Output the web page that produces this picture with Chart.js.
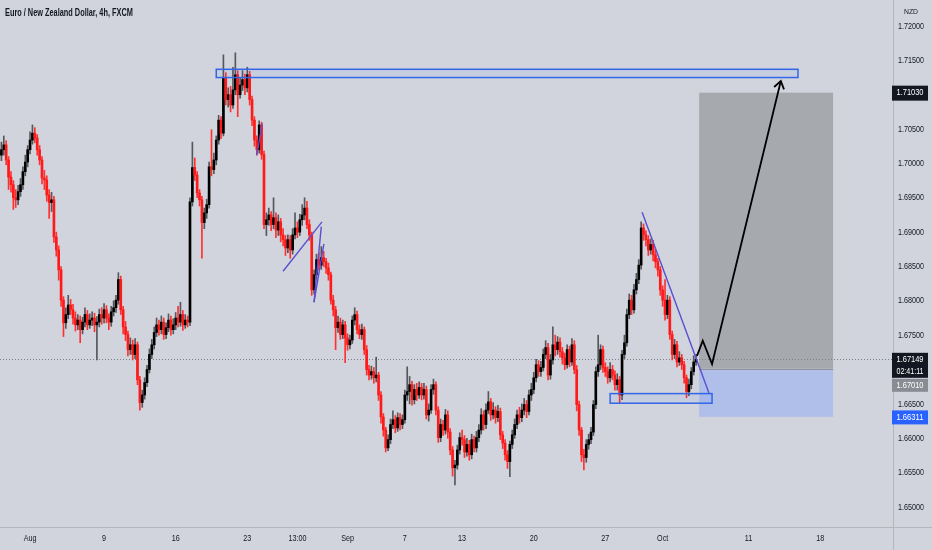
<!DOCTYPE html>
<html><head><meta charset="utf-8">
<script src="https://cdn.jsdelivr.net/npm/chart.js@4.4.1/dist/chart.umd.min.js"></script>
<style>
html,body{margin:0;padding:0;background:#d1d4dc;}
#wrap{position:relative;width:932px;height:550px;overflow:hidden;}
#c{position:absolute;left:0;top:0;}
#title{position:absolute;left:5px;top:6px;font:600 10.5px 'Liberation Sans',Arial,sans-serif;color:#131722;white-space:nowrap;transform:scaleX(0.7);transform-origin:0 0;}
</style></head><body>
<div id="wrap"><canvas id="c" width="932" height="550"></canvas><div id="title">Euro / New Zealand Dollar, 4h, FXCM</div></div>
<script>
// ---- DATA: EUR/NZD 4h candles ----
const closes=[
1.7020,1.7027,1.7005,1.6980,1.6969,1.6950,1.6947,1.6959,1.6969,1.6988,
1.7002,1.7020,1.7034,1.7044,1.7037,1.7020,1.7005,1.6979,1.6976,1.6954,
1.6943,1.6947,1.6893,1.6874,1.6845,1.6801,1.6768,1.6780,1.6794,1.6787,
1.6775,1.6765,1.6772,1.6758,1.6769,1.6780,1.6765,1.6772,1.6775,1.6765,
1.6769,1.6780,1.6775,1.6787,1.6775,1.6769,1.6784,1.6790,1.6801,1.6831,
1.6787,1.6762,1.6751,1.6729,1.6736,1.6722,1.6736,1.6685,1.6652,1.6663,
1.6681,1.6700,1.6722,1.6736,1.6754,1.6765,1.6758,1.6769,1.6751,1.6761,
1.6772,1.6758,1.6765,1.6775,1.6769,1.6780,1.6765,1.6772,1.6769,1.6944,
1.6994,1.6983,1.6957,1.6947,1.6914,1.6928,1.6940,1.6995,1.6991,1.7005,
1.7034,1.7063,1.7044,1.7125,1.7093,1.7100,1.7085,1.7107,1.7129,1.7100,
1.7114,1.7122,1.7110,1.7129,1.7093,1.7063,1.7034,1.7020,1.7056,1.7013,
1.6911,1.6918,1.6925,1.6911,1.6921,1.6903,1.6915,1.6896,1.6889,1.6877,
1.6889,1.6874,1.6896,1.6906,1.6900,1.6918,1.6925,1.6935,1.6911,1.6896,
1.6816,1.6838,1.6860,1.6852,1.6863,1.6857,1.6848,1.6838,1.6801,1.6787,
1.6761,1.6769,1.6751,1.6765,1.6746,1.6736,1.6743,1.6772,1.6780,1.6758,
1.6751,1.6758,1.6729,1.6700,1.6692,1.6697,1.6688,1.6692,1.6663,1.6631,
1.6612,1.6586,1.6598,1.6620,1.6627,1.6615,1.6630,1.6620,1.6627,1.6663,
1.6668,1.6678,1.6656,1.6671,1.6663,1.6674,1.6663,1.6671,1.6634,1.6641,
1.6671,1.6678,1.6641,1.6601,1.6620,1.6612,1.6634,1.6609,1.6583,1.6557,
1.6561,1.6583,1.6601,1.6598,1.6580,1.6591,1.6576,1.6598,1.6586,1.6601,
1.6612,1.6634,1.6620,1.6641,1.6653,1.6634,1.6641,1.6630,1.6639,1.6605,
1.6593,1.6576,1.6566,1.6591,1.6605,1.6620,1.6634,1.6630,1.6641,1.6649,
1.6639,1.6663,1.6671,1.6688,1.6707,1.6697,1.6703,1.6722,1.6732,1.6692,
1.6714,1.6736,1.6729,1.6740,1.6726,1.6717,1.6707,1.6729,1.6711,1.6736,
1.6700,1.6649,1.6612,1.6576,1.6572,1.6591,1.6598,1.6609,1.6649,1.6697,
1.6707,1.6729,1.6703,1.6697,1.6688,1.6700,1.6692,1.6678,1.6685,1.6663,
1.6722,1.6739,1.6780,1.6801,1.6787,1.6816,1.6831,1.6852,1.6906,1.6896,
1.6889,1.6874,1.6882,1.6867,1.6857,1.6845,1.6816,1.6801,1.6780,1.6801,
1.6751,1.6722,1.6736,1.6711,1.6717,1.6707,1.6688,1.6668,1.6678,1.6697,
1.6711,1.67149];
const opens=[
1.7012,1.7020,1.7027,1.7005,1.6980,1.6969,1.6950,1.6947,1.6959,1.6969,
1.6988,1.7002,1.7020,1.7034,1.7044,1.7037,1.7020,1.7005,1.6979,1.6976,
1.6954,1.6943,1.6947,1.6893,1.6874,1.6845,1.6801,1.6768,1.6780,1.6794,
1.6787,1.6775,1.6765,1.6772,1.6758,1.6769,1.6780,1.6765,1.6772,1.6775,
1.6765,1.6769,1.6780,1.6775,1.6787,1.6775,1.6769,1.6784,1.6790,1.6801,
1.6831,1.6787,1.6762,1.6751,1.6729,1.6736,1.6722,1.6736,1.6685,1.6652,
1.6663,1.6681,1.6700,1.6722,1.6736,1.6754,1.6765,1.6758,1.6769,1.6751,
1.6761,1.6772,1.6758,1.6765,1.6775,1.6769,1.6780,1.6765,1.6772,1.6769,
1.6944,1.6994,1.6983,1.6957,1.6947,1.6914,1.6928,1.6940,1.6995,1.6991,
1.7005,1.7034,1.7063,1.7044,1.7125,1.7093,1.7100,1.7085,1.7107,1.7129,
1.7100,1.7114,1.7122,1.7110,1.7129,1.7093,1.7063,1.7034,1.7020,1.7056,
1.7013,1.6911,1.6918,1.6925,1.6911,1.6921,1.6903,1.6915,1.6896,1.6889,
1.6877,1.6889,1.6874,1.6896,1.6906,1.6900,1.6918,1.6925,1.6935,1.6911,
1.6896,1.6816,1.6838,1.6860,1.6852,1.6863,1.6857,1.6848,1.6838,1.6801,
1.6787,1.6761,1.6769,1.6751,1.6765,1.6746,1.6736,1.6743,1.6772,1.6780,
1.6758,1.6751,1.6758,1.6729,1.6700,1.6692,1.6697,1.6688,1.6692,1.6663,
1.6631,1.6612,1.6586,1.6598,1.6620,1.6627,1.6615,1.6630,1.6620,1.6627,
1.6663,1.6668,1.6678,1.6656,1.6671,1.6663,1.6674,1.6663,1.6671,1.6634,
1.6641,1.6671,1.6678,1.6641,1.6601,1.6620,1.6612,1.6634,1.6609,1.6583,
1.6557,1.6561,1.6583,1.6601,1.6598,1.6580,1.6591,1.6576,1.6598,1.6586,
1.6601,1.6612,1.6634,1.6620,1.6641,1.6653,1.6634,1.6641,1.6630,1.6639,
1.6605,1.6593,1.6576,1.6566,1.6591,1.6605,1.6620,1.6634,1.6630,1.6641,
1.6649,1.6639,1.6663,1.6671,1.6688,1.6707,1.6697,1.6703,1.6722,1.6732,
1.6692,1.6714,1.6736,1.6729,1.6740,1.6726,1.6717,1.6707,1.6729,1.6711,
1.6736,1.6700,1.6649,1.6612,1.6576,1.6572,1.6591,1.6598,1.6609,1.6649,
1.6697,1.6707,1.6729,1.6703,1.6697,1.6688,1.6700,1.6692,1.6678,1.6685,
1.6663,1.6722,1.6739,1.6780,1.6801,1.6787,1.6816,1.6831,1.6852,1.6906,
1.6896,1.6889,1.6874,1.6882,1.6867,1.6857,1.6845,1.6816,1.6801,1.6780,
1.6801,1.6751,1.6722,1.6736,1.6711,1.6717,1.6707,1.6688,1.6668,1.6678,
1.6697,1.6711];
const highs=[
1.7031,1.7040,1.7033,1.7010,1.6988,1.6975,1.6962,1.6968,1.6978,1.6995,
1.7012,1.7026,1.7046,1.7056,1.7052,1.7042,1.7026,1.7010,1.6990,1.6982,
1.6962,1.6958,1.6952,1.6900,1.6880,1.6850,1.6806,1.6790,1.6808,1.6802,
1.6795,1.6784,1.6780,1.6778,1.6776,1.6790,1.6786,1.6781,1.6784,1.6782,
1.6777,1.6788,1.6790,1.6796,1.6793,1.6781,1.6792,1.6800,1.6808,1.6841,
1.6836,1.6792,1.6770,1.6756,1.6746,1.6743,1.6745,1.6740,1.6690,1.6670,
1.6688,1.6706,1.6730,1.6744,1.6762,1.6775,1.6772,1.6778,1.6775,1.6768,
1.6781,1.6778,1.6774,1.6783,1.6792,1.6798,1.6786,1.6780,1.6778,1.6950,
1.7031,1.7008,1.6988,1.6962,1.6952,1.6935,1.6948,1.7002,1.7049,1.7015,
1.7040,1.7070,1.7068,1.7158,1.7132,1.7110,1.7112,1.7140,1.7161,1.7135,
1.7125,1.7135,1.7130,1.7140,1.7134,1.7098,1.7068,1.7040,1.7062,1.7060,
1.7018,1.6928,1.6935,1.6930,1.6950,1.6928,1.6925,1.6920,1.6905,1.6895,
1.6896,1.6895,1.6905,1.6928,1.6915,1.6926,1.6940,1.6950,1.6945,1.6918,
1.6900,1.6845,1.6868,1.6870,1.6879,1.6872,1.6862,1.6855,1.6842,1.6808,
1.6792,1.6778,1.6775,1.6772,1.6770,1.6752,1.6750,1.6778,1.6790,1.6785,
1.6765,1.6766,1.6762,1.6735,1.6706,1.6705,1.6703,1.6718,1.6696,1.6668,
1.6636,1.6616,1.6605,1.6628,1.6640,1.6633,1.6637,1.6636,1.6634,1.6670,
1.6704,1.6690,1.6683,1.6678,1.6680,1.6682,1.6680,1.6680,1.6676,1.6650,
1.6678,1.6686,1.6682,1.6646,1.6628,1.6626,1.6642,1.6640,1.6614,1.6588,
1.6568,1.6590,1.6608,1.6612,1.6604,1.6600,1.6597,1.6606,1.6603,1.6610,
1.6620,1.6643,1.6640,1.6650,1.6668,1.6658,1.6652,1.6646,1.6648,1.6644,
1.6610,1.6598,1.6582,1.6596,1.6612,1.6628,1.6641,1.6645,1.6650,1.6658,
1.6655,1.6670,1.6680,1.6696,1.6715,1.6713,1.6712,1.6730,1.6742,1.6738,
1.6722,1.6762,1.6750,1.6748,1.6746,1.6732,1.6724,1.6736,1.6734,1.6745,
1.6742,1.6706,1.6654,1.6616,1.6584,1.6598,1.6606,1.6616,1.6655,1.6704,
1.6750,1.6736,1.6734,1.6710,1.6704,1.6710,1.6706,1.6698,1.6694,1.6690,
1.6728,1.6750,1.6788,1.6810,1.6808,1.6824,1.6840,1.6860,1.6915,1.6912,
1.6902,1.6895,1.6890,1.6888,1.6874,1.6862,1.6850,1.6822,1.6831,1.6808,
1.6806,1.6756,1.6744,1.6741,1.6726,1.6722,1.6712,1.6692,1.6686,1.6703,
1.6720,1.6722];
const lows=[
1.7004,1.7012,1.6998,1.6962,1.6958,1.6933,1.6936,1.6940,1.6952,1.6962,
1.6982,1.6995,1.7014,1.7028,1.7030,1.7012,1.6998,1.6970,1.6962,1.6945,
1.6920,1.6930,1.6885,1.6865,1.6830,1.6792,1.6748,1.6760,1.6774,1.6780,
1.6766,1.6756,1.6758,1.6739,1.6752,1.6762,1.6758,1.6760,1.6764,1.6755,
1.6714,1.6762,1.6766,1.6768,1.6768,1.6758,1.6763,1.6778,1.6783,1.6795,
1.6780,1.6752,1.6742,1.6720,1.6722,1.6714,1.6716,1.6678,1.6641,1.6645,
1.6657,1.6675,1.6695,1.6716,1.6730,1.6748,1.6750,1.6752,1.6744,1.6745,
1.6755,1.6750,1.6752,1.6758,1.6762,1.6763,1.6757,1.6760,1.6762,1.6764,
1.6938,1.6975,1.6950,1.6938,1.6862,1.6905,1.6920,1.6935,1.6982,1.6985,
1.6998,1.7028,1.7036,1.7040,1.7085,1.7082,1.7075,1.7080,1.7100,1.7068,
1.7095,1.7106,1.7100,1.7104,1.7085,1.7055,1.7025,1.7012,1.7015,1.7006,
1.6905,1.6895,1.6910,1.6902,1.6905,1.6892,1.6895,1.6886,1.6880,1.6866,
1.6870,1.6862,1.6868,1.6890,1.6892,1.6895,1.6910,1.6918,1.6905,1.6888,
1.6808,1.6810,1.6832,1.6845,1.6846,1.6850,1.6840,1.6830,1.6795,1.6778,
1.6729,1.6754,1.6744,1.6745,1.6710,1.6728,1.6730,1.6738,1.6765,1.6752,
1.6745,1.6744,1.6722,1.6692,1.6685,1.6686,1.6680,1.6682,1.6655,1.6622,
1.6603,1.6580,1.6582,1.6592,1.6614,1.6608,1.6610,1.6612,1.6614,1.6622,
1.6655,1.6650,1.6648,1.6650,1.6655,1.6658,1.6656,1.6657,1.6628,1.6625,
1.6636,1.6664,1.6634,1.6594,1.6595,1.6604,1.6606,1.6600,1.6576,1.6545,
1.6532,1.6555,1.6577,1.6590,1.6572,1.6574,1.6568,1.6570,1.6580,1.6580,
1.6595,1.6606,1.6612,1.6614,1.6636,1.6626,1.6628,1.6622,1.6624,1.6598,
1.6585,1.6568,1.6556,1.6544,1.6585,1.6600,1.6614,1.6622,1.6624,1.6634,
1.6630,1.6634,1.6655,1.6665,1.6682,1.6690,1.6690,1.6698,1.6716,1.6685,
1.6686,1.6708,1.6720,1.6722,1.6718,1.6708,1.6700,1.6702,1.6704,1.6706,
1.6694,1.6640,1.6604,1.6566,1.6554,1.6565,1.6584,1.6592,1.6604,1.6643,
1.6690,1.6700,1.6696,1.6690,1.6680,1.6682,1.6685,1.6670,1.6670,1.6652,
1.6656,1.6716,1.6734,1.6774,1.6780,1.6782,1.6810,1.6825,1.6846,1.6888,
1.6880,1.6866,1.6868,1.6858,1.6848,1.6836,1.6808,1.6792,1.6772,1.6774,
1.6744,1.6714,1.6716,1.6704,1.6706,1.6700,1.6680,1.6659,1.6662,1.6672,
1.6692,1.6706];

// time axis: bar index of 4h candles, tick labels at these bar positions
const xTickPos=[12,43,73,103,124,145,169,193,223,253,277,313,343];
const xTickLabels=['Aug','9','16','23','13:00','Sep','7','13','20','27','Oct','11','18'];
const yTicks=[1.65,1.655,1.66,1.665,1.67,1.675,1.68,1.685,1.69,1.695,1.70,1.705,1.71,1.715,1.72];
const xRange=[-0.59,373.5];
const yRange=[1.647085,1.723784];

// price scale tags
const lastPrice=1.67149, countdown='02:41:11';
const targetPrice=1.7103, entryPrice=1.6701, stopPrice=1.66311;
const currency='NZD';

// drawings (bar index, price)
const resistanceZone={x0:90,x1:333.7,top:1.7137,bottom:1.7125};
const supportZone={x0:255,x1:297.7,top:1.6665,bottom:1.6651};
const positionX=[292.3,348.4];
const trendLines=[
 [[268.4,1.6929],[296.4,1.6666]],
 [[117.97,1.6843],[134.3,1.6915]],
 [[130.96,1.6798],[134.0,1.6908]],
 [[130.96,1.6798],[135.1,1.6883]],
 [[106.95,1.7012],[109.3,1.7058]]
];
const arrowPath=[[291.4,1.6720],[293.8,1.6742],[297.7,1.6708],[326.5,1.7120]];

// ---- CHART ----
const FONT="'Liberation Sans',Arial,sans-serif";
const UP='#000000', DOWN='#ff1a1a', UPWICK='#55575c', DOWNWICK='#ff3030';
const idx=closes.map((_,i)=>i);
const isUp=idx.map(i=>closes[i]>=opens[i]);

const tvPlugin={
 id:'tv',
 beforeDraw(chart){
  // condense the price-scale tick labels drawn by the library
  const s=chart.scales.y;
  if(s && !s._condensed){
   const orig=s.drawLabels;
   s.drawLabels=function(area){
    const ctx=this.ctx,ox=this.left+5;
    ctx.save();ctx.translate(ox,0);ctx.scale(0.76,1);ctx.translate(-ox,0);
    orig.call(this,area);
    ctx.restore();
   };
   s._condensed=true;
  }
  const sx=chart.scales.x;
  if(sx && !sx._condensed){
   const origx=sx.drawLabels;
   sx.drawLabels=function(area){
    const ctx=this.ctx;
    const items=this.getLabelItems(area);
    ctx.save();
    items.forEach(it=>{
     ctx.save();
     ctx.translate(it.options.translation[0],it.options.translation[1]);
     ctx.scale(0.8,1);
     ctx.font=it.font.string;ctx.fillStyle=it.options.color;
     ctx.textAlign=it.options.textAlign;ctx.textBaseline=it.options.textBaseline;
     ctx.fillText(it.label,0,it.textOffset);
     ctx.restore();
    });
    ctx.restore();
   };
   sx._condensed=true;
  }
 },
 beforeDatasetsDraw(chart){
  const ctx=chart.ctx,xs=chart.scales.x,ys=chart.scales.y;
  const X=v=>xs.getPixelForValue(v),Y=v=>ys.getPixelForValue(v);
  ctx.save();
  ctx.fillStyle='#a6a9ae';
  ctx.fillRect(X(positionX[0]),Y(targetPrice),X(positionX[1])-X(positionX[0]),Y(entryPrice)-Y(targetPrice));
  ctx.fillStyle='#b0bfe9';
  ctx.fillRect(X(positionX[0]),Y(entryPrice),X(positionX[1])-X(positionX[0]),Y(stopPrice)-Y(entryPrice));
  ctx.strokeStyle='#8f9297';ctx.lineWidth=1;
  ctx.beginPath();ctx.moveTo(X(positionX[0]),Math.round(Y(entryPrice))+0.5);ctx.lineTo(X(positionX[1]),Math.round(Y(entryPrice))+0.5);ctx.stroke();
  ctx.strokeStyle='#7d8087';ctx.setLineDash([1,2]);
  const ly=Math.round(Y(lastPrice))+0.5;
  ctx.beginPath();ctx.moveTo(chart.chartArea.left,ly);ctx.lineTo(chart.chartArea.right,ly);ctx.stroke();
  ctx.restore();
 },
 afterDatasetsDraw(chart){
  const ctx=chart.ctx,xs=chart.scales.x,ys=chart.scales.y;
  const X=v=>xs.getPixelForValue(v),Y=v=>ys.getPixelForValue(v);
  ctx.save();
  ctx.lineWidth=1.5;ctx.strokeStyle='#3366e6';
  [resistanceZone,supportZone].forEach(z=>{
   ctx.fillStyle='rgba(41,98,255,0.06)';
   ctx.fillRect(X(z.x0),Y(z.top),X(z.x1)-X(z.x0),Y(z.bottom)-Y(z.top));
   ctx.strokeRect(X(z.x0),Y(z.top),X(z.x1)-X(z.x0),Y(z.bottom)-Y(z.top));
  });
  ctx.strokeStyle='#5a4fd0';ctx.lineWidth=1.4;
  trendLines.forEach(l=>{ctx.beginPath();ctx.moveTo(X(l[0][0]),Y(l[0][1]));ctx.lineTo(X(l[1][0]),Y(l[1][1]));ctx.stroke();});
  ctx.strokeStyle='#000';ctx.lineWidth=1.8;ctx.lineJoin='miter';
  ctx.beginPath();
  arrowPath.forEach((p,i)=>{i?ctx.lineTo(X(p[0]),Y(p[1])):ctx.moveTo(X(p[0]),Y(p[1]));});
  ctx.stroke();
  const a=arrowPath[arrowPath.length-1],b=arrowPath[arrowPath.length-2];
  const tx=X(a[0]),ty=Y(a[1]),ang=Math.atan2(ty-Y(b[1]),tx-X(b[0]));
  ctx.beginPath();
  ctx.moveTo(tx-9*Math.cos(ang-0.6),ty-9*Math.sin(ang-0.6));
  ctx.lineTo(tx,ty);
  ctx.lineTo(tx-9*Math.cos(ang+0.6),ty-9*Math.sin(ang+0.6));
  ctx.stroke();
  ctx.restore();
 },
 afterDraw(chart){
  const ctx=chart.ctx,ys=chart.scales.y,ca=chart.chartArea;
  const Y=v=>ys.getPixelForValue(v);
  ctx.save();
  ctx.strokeStyle='#b3b6bd';ctx.lineWidth=1;
  ctx.beginPath();ctx.moveTo(0,Math.round(ca.bottom)+0.5);ctx.lineTo(932,Math.round(ca.bottom)+0.5);ctx.stroke();
  ctx.beginPath();ctx.moveTo(Math.round(ca.right)+0.5,0);ctx.lineTo(Math.round(ca.right)+0.5,550);ctx.stroke();
  const bx=ca.right-1,bw=36,cx=bx+bw/2;
  ctx.font='9px '+FONT;ctx.textAlign='center';ctx.textBaseline='middle';
  function tag(top,h,bg,lines){
   ctx.fillStyle=bg;ctx.fillRect(bx,top,bw,h);
   ctx.fillStyle='#ffffff';
   lines.forEach((t,i)=>ctx.fillText(t,cx,top+7+i*12,27));
  }
  tag(Y(targetPrice)-7,15,'#131722',[targetPrice.toFixed(5)]);
  const lt=Y(lastPrice)-6.5;
  tag(lt,25,'#131722',[lastPrice.toFixed(5),countdown]);
  tag(Math.max(Y(entryPrice)-6.5,lt+26),13,'#898c93',[entryPrice.toFixed(5)]);
  tag(Y(stopPrice)-6.5,14,'#2962ff',[stopPrice.toFixed(5)]);
  ctx.fillStyle='#131722';ctx.font='8px '+FONT;
  ctx.fillText(currency,cx+1,12,14);
  ctx.restore();
 }
};

new Chart(document.getElementById('c'),{
 type:'bar',
 data:{datasets:[
  {label:'wick',data:idx.map(i=>({x:i,y:[lows[i],highs[i]]})),
   backgroundColor:idx.map(i=>isUp[i]?UPWICK:DOWNWICK),barThickness:1,grouped:false,order:2,borderWidth:0},
  {label:'body',data:idx.map(i=>({x:i,y:[opens[i],closes[i]]})),
   backgroundColor:idx.map(i=>isUp[i]?UP:DOWN),barThickness:2,minBarLength:1,grouped:false,order:1,borderWidth:0}
 ]},
 options:{
  responsive:false,animation:false,devicePixelRatio:1,
  layout:{padding:0},
  plugins:{legend:{display:false},tooltip:{enabled:false}},
  scales:{
   x:{type:'linear',min:xRange[0],max:xRange[1],offset:false,
      grid:{display:false,drawTicks:false},border:{display:false},
      afterBuildTicks:s=>{s.ticks=xTickPos.map(v=>({value:v}));},
      afterFit:s=>{s.height=23;s.paddingLeft=0;s.paddingRight=0;},
      ticks:{autoSkip:false,maxRotation:0,padding:6,color:'#131722',font:{family:FONT,size:9},
        callback:v=>xTickLabels[xTickPos.indexOf(v)]}},
   y:{type:'linear',position:'right',min:yRange[0],max:yRange[1],
      grid:{display:false,drawTicks:false},border:{display:false},
      afterBuildTicks:s=>{s.ticks=yTicks.map(v=>({value:v}));},
      afterFit:s=>{s.width=39;s.paddingTop=0;s.paddingBottom=0;},
      ticks:{autoSkip:false,padding:5,color:'#131722',font:{family:FONT,size:9.5},
        callback:v=>Number(v).toFixed(5)}}
  }
 },
 plugins:[tvPlugin]
});
</script>
</body></html>
